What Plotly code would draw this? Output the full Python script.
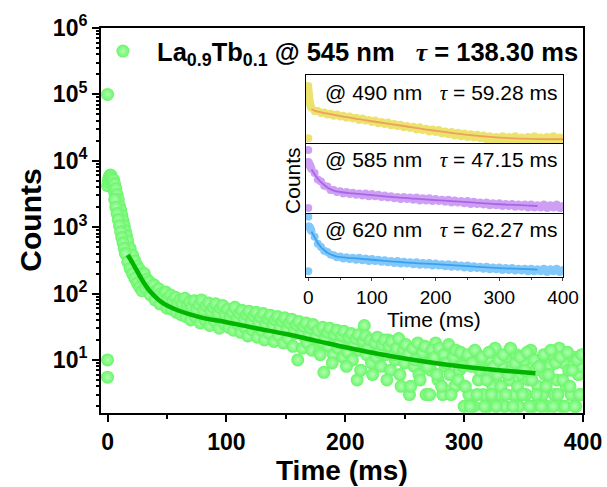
import plotly.graph_objects as go

# ---------------- main decay, La0.9Tb0.1 @ 545 nm ----------------
early_t = [0, 0, 0, 0, 0.5, 1, 1.5, 2, 2.5, 3, 3.5, 4, 4.5, 5, 6, 7, 8, 9, 10, 11, 12, 13, 14,
           15, 16, 17, 18, 19, 20, 21, 22, 23, 24, 25, 26, 27, 28, 29,
           14, 16, 18, 20, 22, 24, 26, 28, 18, 22, 26,
           5, 6, 7, 8, 9, 10, 11, 12, 13, 14, 15, 16, 17, 19, 21, 23, 25, 27, 29,
           6, 7, 8, 9, 10, 11, 12, 13, 14, 15, 17, 19, 21, 23, 25, 27, 29]
early_counts = [100000, 10, 5.5, 4200, 4800, 5300, 5700, 6000, 6100, 5900, 5500, 5000, 4500, 4000, 3300, 2700, 2200, 1800, 1500, 1250, 1050, 880, 740,
                620, 520, 440, 380, 330, 290, 260, 240, 220, 200, 185, 175, 165, 155, 150,
                600, 420, 300, 230, 190, 160, 140, 125, 450, 300, 220,
                5200, 4500, 3800, 3100, 2600, 2100, 1800, 1500, 1250, 1050, 880, 740, 620, 480, 380, 310, 260, 230, 200,
                2600, 2000, 1600, 1300, 1050, 850, 700, 580, 480, 400, 300, 240, 200, 170, 145, 125, 110]

even_t = [30, 32, 34, 36, 38, 40, 42, 44, 46, 48, 50, 52, 54, 56, 58, 60,
          62, 64, 66, 68, 70, 72, 74, 76, 78, 80, 82, 84, 86, 88, 90, 92, 94, 96, 98, 100,
          102, 104, 106, 108, 110, 112, 114, 116, 118, 120, 122, 124, 126, 128, 130, 132, 134, 136, 138, 140, 142, 144, 146, 148, 150,
          152, 154, 156, 158, 160, 162, 164, 166, 168, 170, 172, 174, 176, 178, 180, 182, 184, 186, 188, 190, 192, 194, 196, 198, 200,
          202, 204, 206, 208, 210, 212, 214, 216, 218, 220, 222, 224, 226, 228, 230, 232, 234, 236, 238, 240, 242, 244, 246, 248, 250,
          252, 254, 256, 258, 260, 262, 264, 266, 268, 270, 272, 274, 276, 278, 280, 282, 284, 286, 288, 290, 292, 294, 296, 298, 300,
          302, 304, 306, 308, 310, 312, 314, 316, 318, 320, 322, 324, 326, 328, 330, 332, 334, 336, 338, 340, 342, 344, 346, 348, 350,
          352, 354, 356, 358, 360, 362, 364, 366, 368, 370, 372, 374, 376, 378, 380, 382, 384, 386, 388, 390, 392, 394, 396, 398, 400]
even_counts = [170, 120, 135, 95, 118, 80, 102, 70, 92, 78, 60, 82, 58, 74, 52, 66,
               48, 62, 45, 57, 40, 60, 44, 52, 36, 55, 40, 47, 33, 52, 38, 45, 30, 48, 35, 42,
               31, 44, 28, 38, 33, 26, 40, 30, 23, 36, 28, 33, 22, 35, 27, 20, 31, 25, 34, 19, 29, 23, 30, 18, 27,
               21, 28, 16, 25, 10, 27, 15, 22, 18, 26, 14, 21, 24, 13, 19, 6.5, 22, 16, 20, 12, 23, 15, 18, 11, 17,
               13, 19, 10, 16, 5, 14, 20, 33, 12, 17, 9, 15, 11, 18, 8, 14, 12, 20, 7, 13, 10, 16, 6, 12, 9,
               14, 3, 11, 8, 16, 6, 12, 9, 3, 13, 7, 10, 18, 5, 11, 3, 8, 14, 6, 10, 4, 12, 7, 9, 2,
               11, 3, 8, 2, 13, 5, 9, 3, 7, 2, 10, 4, 15, 6, 3, 8, 2, 11, 5, 7, 3, 12, 2, 6, 9,
               3, 5, 14, 2, 7, 4, 10, 3, 6, 2, 8, 12, 3, 5, 15, 2, 9, 4, 7, 3, 11, 2, 6, 8, 3]

odd_t = [31, 33, 35, 37, 39, 41, 43, 45, 47, 49, 51, 53, 55, 57, 59,
         61, 63, 65, 67, 69, 71, 73, 75, 77, 79, 81, 83, 85, 87, 89, 91, 93, 95, 97, 99,
         101, 103, 105, 107, 109, 111, 113, 115, 117, 119, 121, 123, 125, 127, 129, 131, 133, 135, 137, 139, 141, 143, 145, 147, 149,
         151, 153, 155, 157, 159, 161, 163, 165, 167, 169, 171, 173, 175, 177, 179, 181, 183, 185, 187, 189, 191, 193, 195, 197, 199,
         201, 203, 205, 207, 209, 211, 213, 215, 217, 219, 221, 223, 225, 227, 229, 231, 233, 235, 237, 239, 241, 243, 245, 247, 249,
         251, 253, 255, 257, 259, 261, 263, 265, 267, 269, 271, 273, 275, 277, 279, 281, 283, 285, 287, 289, 291, 293, 295, 297, 299,
         301, 303, 305, 307, 309, 311, 313, 315, 317, 319, 321, 323, 325, 327, 329, 331, 333, 335, 337, 339, 341, 343, 345, 347, 349,
         351, 353, 355, 357, 359, 361, 363, 365, 367, 369, 371, 373, 375, 377, 379, 381, 383, 385, 387, 389, 391, 393, 395, 397, 399]
odd_counts = [200, 165, 150, 125, 135, 110, 118, 100, 92, 105, 85, 95, 78, 88, 72,
              80, 70, 85, 66, 75, 62, 78, 58, 68, 80, 56, 65, 72, 54, 62, 70, 50, 60, 66, 48,
              58, 45, 52, 62, 42, 50, 56, 40, 48, 54, 38, 46, 52, 36, 44, 50, 34, 42, 47, 32, 40, 45, 30, 38, 43,
              29, 36, 41, 27, 34, 38, 25, 32, 36, 23, 30, 34, 22, 28, 12, 31, 21, 26, 30, 9, 24, 28, 18, 23, 27,
              8, 22, 25, 16, 21, 24, 7, 19, 23, 15, 20, 6, 18, 22, 13, 17, 20, 5, 16, 19, 12, 15, 21, 4, 14,
              17, 12, 4, 15, 10, 18, 5, 13, 16, 8, 3, 14, 11, 6, 15, 4, 12, 9, 17, 3, 11, 14, 5, 13, 8,
              4, 12, 2, 9, 14, 3, 7, 11, 2, 5, 13, 3, 8, 2, 10, 4, 12, 3, 6, 15, 2, 9, 4, 11, 3,
              7, 13, 2, 5, 10, 3, 8, 2, 12, 4, 6, 14, 2, 9, 3, 11, 5, 2, 13, 4, 7, 2, 10, 3, 12]

fit_t = [17, 20, 25, 30, 35, 40, 45, 50, 60, 70, 80, 100, 125, 150, 175, 200, 225, 250, 275, 300, 325, 350, 360]
fit_counts = [380, 310, 215, 150, 112, 90, 75, 66, 55, 48, 43, 37, 30, 24.5, 19.5, 15.5, 12.6, 10.5, 9.0, 7.9, 7.1, 6.5, 6.3]

y_tickvals = [10, 100, 1000, 10000, 100000, 1000000]
y_ticktext = ["10<sup>1</sup>", "10<sup>2</sup>", "10<sup>3</sup>", "10<sup>4</sup>", "10<sup>5</sup>", "10<sup>6</sup>"]
x_tickvals = [0, 100, 200, 300, 400]

# ---------------- inset decays (normalised counts) ----------------
inset_t_early = [0, 0, 0, 0.5, 1, 1.5, 2, 2.5, 3, 3.5, 4]
inset_t = [5, 10, 15, 20, 25, 30, 35, 40, 45, 50, 55, 60, 65, 70, 75, 80, 85, 90, 95, 100,
           105, 110, 115, 120, 125, 130, 135, 140, 145, 150, 155, 160, 165, 170, 175, 180, 185, 190, 195, 200,
           205, 210, 215, 220, 225, 230, 235, 240, 245, 250, 255, 260, 265, 270, 275, 280, 285, 290, 295, 300,
           305, 310, 315, 320, 325, 330, 335, 340, 345, 350, 355, 360, 365, 370, 375, 380, 385, 390, 395, 400]

y490_early = [0.84, 0.07, 0.80, 0.76, 0.72, 0.68, 0.64, 0.60, 0.57, 0.55, 0.53]
y490 = [0.52, 0.47, 0.47, 0.44, 0.45, 0.42, 0.43, 0.40, 0.42, 0.39, 0.40, 0.37, 0.39, 0.36, 0.37, 0.34, 0.36, 0.33, 0.34, 0.31,
        0.33, 0.29, 0.31, 0.28, 0.30, 0.26, 0.28, 0.25, 0.27, 0.23, 0.25, 0.22, 0.24, 0.20, 0.23, 0.19, 0.21, 0.17, 0.20, 0.16,
        0.19, 0.14, 0.17, 0.13, 0.16, 0.11, 0.15, 0.10, 0.14, 0.09, 0.13, 0.08, 0.12, 0.07, 0.11, 0.05, 0.10, 0.04, 0.09, 0.05,
        0.10, 0.03, 0.09, 0.04, 0.10, 0.03, 0.08, 0.04, 0.09, 0.03, 0.10, 0.04, 0.08, 0.03, 0.09, 0.04, 0.10, 0.03, 0.08, 0.05]
fit490_t = [5, 10, 20, 40, 60, 80, 100, 150, 200, 250, 300, 350, 400]
fit490 = [0.50, 0.475, 0.45, 0.415, 0.38, 0.35, 0.32, 0.25, 0.18, 0.12, 0.08, 0.06, 0.055]

y585_early = [0.90, 0.07, 0.73, 0.72, 0.71, 0.70, 0.69, 0.68, 0.67, 0.66, 0.645]
y585 = [0.63, 0.57, 0.48, 0.45, 0.39, 0.38, 0.33, 0.33, 0.30, 0.31, 0.28, 0.30, 0.27, 0.29, 0.26, 0.28, 0.25, 0.28, 0.24, 0.27,
        0.24, 0.26, 0.23, 0.25, 0.22, 0.24, 0.21, 0.23, 0.20, 0.23, 0.20, 0.22, 0.19, 0.22, 0.18, 0.21, 0.18, 0.21, 0.17, 0.20,
        0.17, 0.19, 0.16, 0.19, 0.15, 0.18, 0.15, 0.17, 0.14, 0.17, 0.13, 0.16, 0.13, 0.15, 0.12, 0.15, 0.11, 0.14, 0.11, 0.14,
        0.10, 0.13, 0.10, 0.13, 0.09, 0.12, 0.09, 0.12, 0.08, 0.12, 0.08, 0.11, 0.08, 0.12, 0.07, 0.11, 0.08, 0.12, 0.07, 0.10]
fit585_t = [5, 10, 15, 20, 25, 30, 40, 50, 70, 100, 150, 200, 250, 300, 360]
fit585 = [0.62, 0.555, 0.49, 0.44, 0.40, 0.365, 0.32, 0.30, 0.28, 0.255, 0.215, 0.185, 0.155, 0.125, 0.10]

y620_early = [0.94, 0.09, 0.79, 0.79, 0.785, 0.78, 0.775, 0.77, 0.76, 0.75, 0.735]
y620 = [0.72, 0.63, 0.52, 0.47, 0.41, 0.39, 0.35, 0.34, 0.31, 0.32, 0.29, 0.31, 0.28, 0.30, 0.27, 0.30, 0.26, 0.29, 0.25, 0.28,
        0.25, 0.27, 0.24, 0.26, 0.23, 0.25, 0.22, 0.25, 0.21, 0.24, 0.21, 0.23, 0.20, 0.23, 0.19, 0.22, 0.19, 0.22, 0.18, 0.21,
        0.18, 0.20, 0.17, 0.20, 0.16, 0.19, 0.16, 0.18, 0.15, 0.18, 0.14, 0.17, 0.14, 0.16, 0.13, 0.16, 0.12, 0.15, 0.12, 0.15,
        0.11, 0.14, 0.11, 0.14, 0.10, 0.13, 0.10, 0.13, 0.09, 0.13, 0.09, 0.12, 0.09, 0.13, 0.08, 0.12, 0.09, 0.13, 0.08, 0.11]
fit620_t = [5, 10, 15, 20, 25, 30, 40, 50, 70, 100, 150, 200, 250, 300, 360]
fit620 = [0.71, 0.62, 0.53, 0.465, 0.42, 0.38, 0.335, 0.31, 0.295, 0.27, 0.23, 0.20, 0.17, 0.14, 0.115]

inset_labels = ["@ 490 nm", "@ 585 nm", "@ 620 nm"]
inset_taus = ["59.28", "47.15", "62.27"]

FONT = "Liberation Sans, Arial, sans-serif"
TAU = '<span style="font-family:Liberation Serif, Times New Roman, serif"><i>τ</i></span>'

main_t = early_t + even_t + odd_t
main_counts = early_counts + even_counts + odd_counts

fig = go.Figure()

fig.add_trace(go.Scatter(
    x=main_t, y=main_counts, mode="markers",
    name="&nbsp;&nbsp;La<sub>0.9</sub>Tb<sub>0.1</sub> @ 545 nm&nbsp;&nbsp;&nbsp;" + TAU + " = 138.30 ms",
    marker=dict(size=13, color="rgb(105,245,105)",
                gradient=dict(type="radial", color="rgb(175,255,175)"),
                line=dict(width=0)),
    xaxis="x", yaxis="y"))
fig.add_trace(go.Scatter(
    x=fit_t, y=fit_counts, mode="lines", line=dict(color="rgb(0,180,0)", width=4.5, shape="spline"),
    showlegend=False, xaxis="x", yaxis="y"))

panels = [
    ("x4", "y4", inset_t_early + inset_t, y490_early + y490, fit490_t, fit490,
     "rgb(236,226,110)", "rgb(240,160,90)"),
    ("x3", "y3", inset_t_early + inset_t, y585_early + y585, fit585_t, fit585,
     "rgb(206,160,244)", "rgb(170,100,230)"),
    ("x2", "y2", inset_t_early + inset_t, y620_early + y620, fit620_t, fit620,
     "rgb(130,200,248)", "rgb(60,160,240)"),
]
for xa, ya, tx, vy, ft, fv, mc, lc in panels:
    fig.add_trace(go.Scatter(x=tx, y=vy, mode="markers", showlegend=False,
                             marker=dict(size=8, color=mc, line=dict(width=0)),
                             xaxis=xa, yaxis=ya))
    fig.add_trace(go.Scatter(x=ft, y=fv, mode="lines", showlegend=False,
                             line=dict(color=lc, width=1.8, shape="spline"),
                             xaxis=xa, yaxis=ya))

tickfont_main = dict(family=FONT, size=23, color="black", weight="bold")
inset_x = [0.4253, 0.9585]
dom = {"y4": [0.7013, 0.8779], "y3": [0.5195, 0.7013], "y2": [0.3532, 0.5195]}
plain = dict(showline=True, linecolor="black", linewidth=1.2, mirror=True, showticklabels=False,
             ticks="", showgrid=False, zeroline=False, automargin=False)

fig.update_layout(
    width=607, height=487,
    margin=dict(l=101, r=24, t=28, b=74, autoexpand=False),
    paper_bgcolor="white", plot_bgcolor="white",
    font=dict(family=FONT, color="black"),
    showlegend=True,
    legend=dict(x=0.004, y=1.0, xanchor="left", yanchor="top", bgcolor="rgba(0,0,0,0)",
                font=dict(family=FONT, size=25.5, color="black", weight="bold"),
                itemwidth=30),
    xaxis=dict(range=[-5.5, 400], showline=True, linecolor="black", linewidth=2, mirror=True,
               ticks="outside", ticklen=7, tickwidth=2, tickcolor="black",
               tickvals=x_tickvals, automargin=False,
               minor=dict(ticks="outside", ticklen=4, tickwidth=1.5, tickcolor="black", dtick=50, tick0=0),
               showgrid=False, zeroline=False, tickfont=tickfont_main),
    yaxis=dict(type="log", range=[0.2, 6.0], tickvals=y_tickvals, ticktext=y_ticktext,
               showline=True, linecolor="black", linewidth=2, mirror=True, automargin=False,
               ticks="outside", ticklen=7, tickwidth=2, tickcolor="black",
               minor=dict(ticks="outside", ticklen=3.5, tickwidth=1.5, tickcolor="black", dtick="D1"),
               showgrid=False, zeroline=False, tickfont=tickfont_main),
    xaxis2=dict(domain=inset_x, anchor="y2", range=[-3.6, 400], showline=True, linecolor="black",
                linewidth=1.2, mirror=True, ticks="outside", ticklen=3, tickwidth=1.2, automargin=False,
                tickvals=x_tickvals,
                minor=dict(ticks="outside", ticklen=2, tickwidth=1, dtick=50, tick0=0),
                showgrid=False, zeroline=False,
                tickfont=dict(family=FONT, size=19, color="black")),
    yaxis2=dict(domain=dom["y2"], anchor="x2", range=[0, 1], **plain),
    xaxis3=dict(domain=inset_x, anchor="y3", range=[-3.6, 400], **plain),
    yaxis3=dict(domain=dom["y3"], anchor="x3", range=[0, 1], **plain),
    xaxis4=dict(domain=inset_x, anchor="y4", range=[-3.6, 400], **plain),
    yaxis4=dict(domain=dom["y4"], anchor="x4", range=[0, 1], **plain),
)

ann = [
    dict(text="Time (ms)", x=0.5, y=-0.15, xref="paper", yref="paper", showarrow=False,
         font=dict(family=FONT, size=28, weight="bold"), xanchor="center", yanchor="middle"),
    dict(text="Counts", x=-0.147, y=0.5, xref="paper", yref="paper", showarrow=False, textangle=-90,
         font=dict(family=FONT, size=30, weight="bold"), xanchor="center", yanchor="middle"),
    dict(text="Time (ms)", x=0.69, y=0.243, xref="paper", yref="paper", showarrow=False,
         font=dict(family=FONT, size=21), xanchor="center", yanchor="middle"),
    dict(text="Counts", x=0.396, y=0.605, xref="paper", yref="paper", showarrow=False, textangle=-90,
         font=dict(family=FONT, size=21), xanchor="center", yanchor="middle"),
]
for lab, tau, yy in zip(inset_labels, inset_taus, [0.831, 0.657, 0.475]):
    ann.append(dict(text=lab + "&nbsp;&nbsp;&nbsp;" + TAU + " = " + tau + " ms", x=0.952, y=yy,
                    xref="paper", yref="paper", showarrow=False, xanchor="right", yanchor="middle",
                    font=dict(family=FONT, size=21)))
fig.update_layout(annotations=ann)

fig.write_html("out.html", config={"displayModeBar": False},
               post_script="document.body.style.margin='0px';")
